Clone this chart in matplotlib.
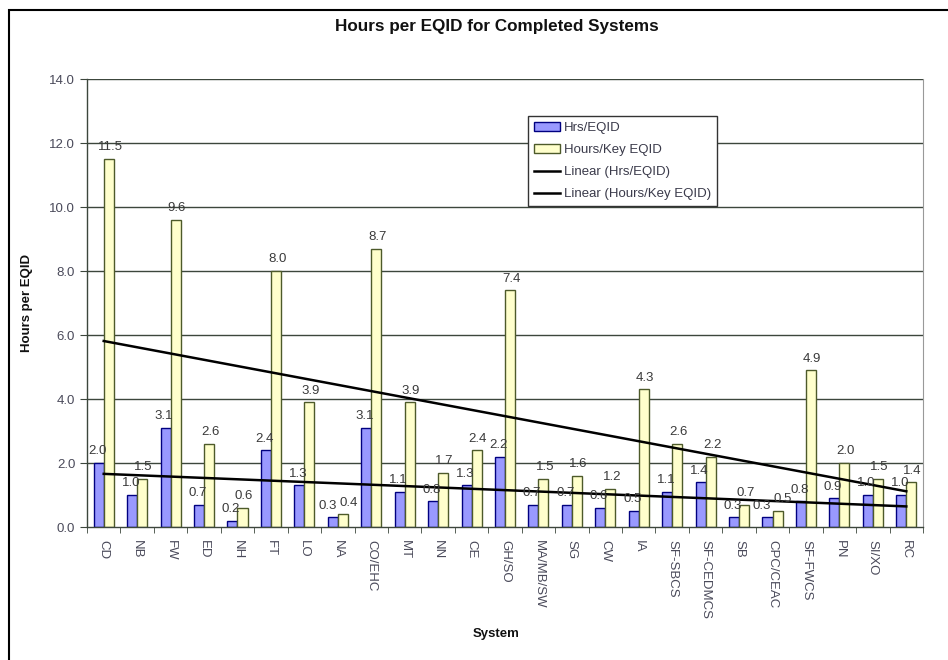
import numpy as np
import matplotlib
matplotlib.use("Agg")
import matplotlib.pyplot as plt
from matplotlib.patches import Rectangle

categories = ["CD", "NB", "FW", "ED", "NH", "FT", "LO", "NA", "CO/EHC", "MT", "NN", "CE",
              "GH/SO", "MA/MB/SW", "SG", "CW", "IA", "SF-SBCS", "SF-CEDMCS", "SB",
              "CPC/CEAC", "SF-FWCS", "PN", "SI/XO", "RC"]
hrs_eqid = [2.0, 1.0, 3.1, 0.7, 0.2, 2.4, 1.3, 0.3, 3.1, 1.1, 0.8, 1.3, 2.2, 0.7, 0.7,
            0.6, 0.5, 1.1, 1.4, 0.3, 0.3, 0.8, 0.9, 1.0, 1.0]
hours_key = [11.5, 1.5, 9.6, 2.6, 0.6, 8.0, 3.9, 0.4, 8.7, 3.9, 1.7, 2.4, 7.4, 1.5, 1.6,
             1.2, 4.3, 2.6, 2.2, 0.7, 0.5, 4.9, 2.0, 1.5, 1.4]
yticks = [0, 2, 4, 6, 8, 10, 12, 14]

plt.rcParams['font.family'] = ['Liberation Sans', 'DejaVu Sans']

fig = plt.figure(figsize=(9.48, 6.6), dpi=100)
ax = fig.add_axes([87/948, 1-527/660, (923-87)/948, (527-79)/660])

x = np.arange(len(categories))
w = 0.3
grid_c = '#3c463c'
txt_c = '#4a4a5a'

ax.set_axisbelow(True)
for t in yticks[1:]:
    ax.axhline(t, color=grid_c, lw=1.0, zorder=0)

b1 = ax.bar(x - w/2, hrs_eqid, w, color='#9999FF', edgecolor='#000080', lw=1.0,
            label='Hrs/EQID', zorder=2)
b2 = ax.bar(x + w/2, hours_key, w, color='#FFFFCC', edgecolor='#4d5a2a', lw=1.0,
            label='Hours/Key EQID', zorder=2)

# linear trendlines
xs = np.arange(1, len(categories) + 1)
p1 = np.polyfit(xs, hrs_eqid, 1)
p2 = np.polyfit(xs, hours_key, 1)
l1, = ax.plot(x, np.polyval(p1, xs), color='black', lw=1.8, label='Linear (Hrs/EQID)', zorder=3)
l2, = ax.plot(x, np.polyval(p2, xs), color='black', lw=1.8, label='Linear (Hours/Key EQID)', zorder=3)

for xi, v, k in zip(x, hrs_eqid, hours_key):
    close = abs(v - k) < 0.35
    ax.annotate(f'{v:.1f}', (xi - w/2, v), xytext=(-4 if close else -1, 4),
                textcoords='offset points', ha='center', va='bottom', fontsize=9.5,
                color='#3a3a3a', zorder=4)
    ax.annotate(f'{k:.1f}', (xi + w/2, k), xytext=(4 if close else 1, 4),
                textcoords='offset points', ha='center', va='bottom', fontsize=9.5,
                color='#3a3a3a', zorder=4)

ax.set_xlim(-0.5, len(categories) - 0.5)
ax.set_ylim(0, 14)
ax.set_yticks(yticks)
ax.set_yticklabels([f'{t:.1f}' for t in yticks], fontsize=9.5, color=txt_c)
ax.set_xticks(x)
ax.set_xticklabels(categories, rotation=-90, fontsize=9.5, color=txt_c)
ax.tick_params(axis='x', length=0, pad=9)
ax.set_xticks(np.arange(-0.5, len(categories)), minor=True)
ax.tick_params(axis='x', which='minor', length=4, direction='out', color=grid_c)
ax.tick_params(axis='y', length=5, direction='out', color=grid_c)

for s in ['left', 'bottom']:
    ax.spines[s].set_color(grid_c)
    ax.spines[s].set_linewidth(1.0)
ax.spines['top'].set_visible(False)
ax.spines['right'].set_color('#999999')

ax.set_ylabel('Hours per EQID', fontsize=9.5, fontweight='bold', color='#111111')
ax.yaxis.set_label_coords((33 - 87) / 836, 0.5)
fig.text(496/948, 1-634/660, 'System', ha='center', va='center', fontsize=9.5,
         fontweight='bold', color='#111111')
fig.text(497/948, 1-27/660, 'Hours per EQID for Completed Systems', ha='center', va='center',
         fontsize=12.3, fontweight='bold', color='#111111')

leg = ax.legend(handles=[b1, b2, l1, l2], loc='upper left', bbox_to_anchor=(0.527, 0.918),
                fontsize=9.5, frameon=True, fancybox=False, framealpha=1, edgecolor='#333333',
                borderpad=0.45, labelspacing=0.75, handlelength=2.0, handletextpad=0.3,
                borderaxespad=0)
for t in leg.get_texts():
    t.set_color('#3a3a4a')
leg.get_frame().set_linewidth(1.0)
leg.set_zorder(5)

fig.patches.append(Rectangle((9/948, -0.1), 1.2, 1 - 10/660 + 0.1, transform=fig.transFigure,
                             fill=False, edgecolor='black', lw=1.5))

fig.savefig('out.png', dpi=100)
